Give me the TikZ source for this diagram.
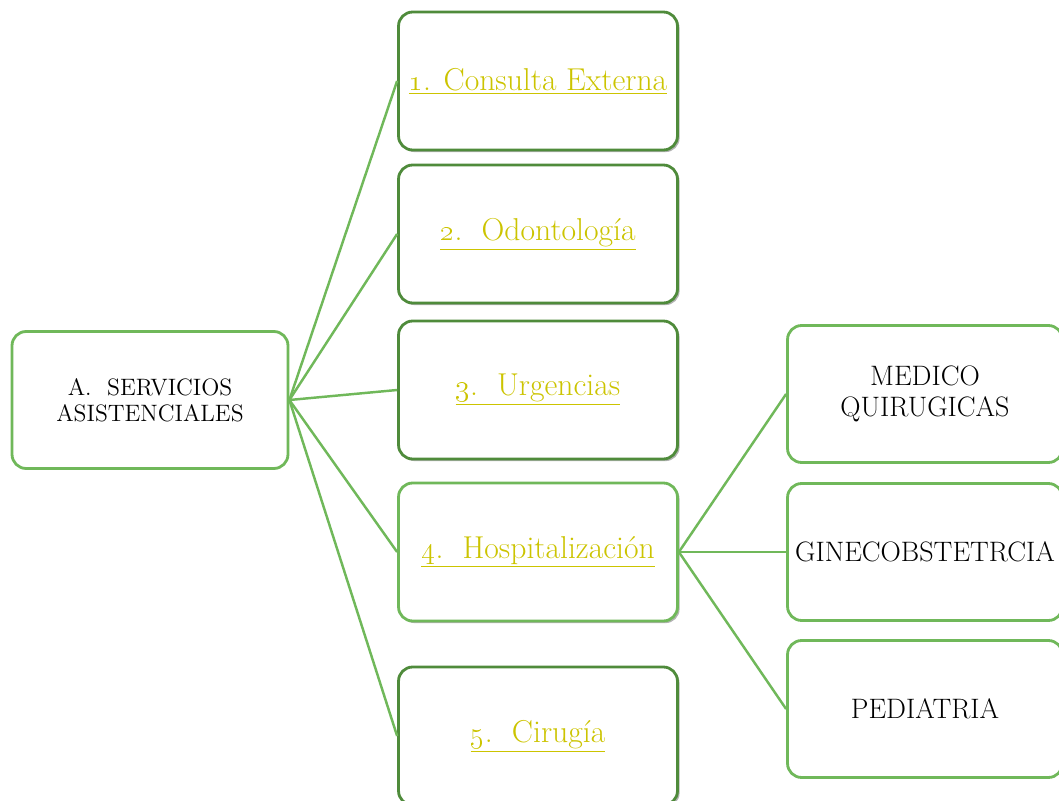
\documentclass[tikz,border=0pt]{standalone}
\usepackage{tikz}
\usetikzlibrary{shadows}
\definecolor{lineGreen}{HTML}{70B85A}
\definecolor{darkGreen}{HTML}{4F8B3B}
\definecolor{textYellow}{HTML}{CCC400}
\tikzset{
  rootbox/.style={draw=lineGreen, line width=1.6pt, rounded corners=8pt, fill=white,
    minimum width=5.52cm, minimum height=2.74cm, align=center, font=\fontsize{13.5}{15}\selectfont},
  itembox/.style={draw=darkGreen, line width=1.6pt, rounded corners=8pt, fill=white,
    minimum width=5.58cm, minimum height=2.76cm, inner sep=1pt, align=center,
    drop shadow={shadow xshift=1.2pt, shadow yshift=-1.2pt, fill=black!60},
    text=textYellow, font=\fontsize{18}{21}\selectfont},
  itemboxlight/.style={itembox, draw=lineGreen, drop shadow={opacity=0}},
  leafbox/.style={draw=lineGreen, line width=1.6pt, rounded corners=8pt, fill=white,
    minimum width=5.5cm, minimum height=2.74cm, inner sep=1pt, align=center, font=\fontsize{16}{18}\selectfont},
  link/.style={draw=lineGreen, line width=1.4pt}
}
\begin{document}
\begin{tikzpicture}[x=0.02cm, y=-0.02cm]
\useasboundingbox (0,0) rectangle (1059,801);
\clip (0,0) rectangle (1059,801);
\node[rootbox](servicios) at (150,400) {A.~~SERVICIOS\\ASISTENCIALES};
%
\node[itembox](consulta) at (538,81) {\underline{\oldstylenums{1}. Consulta Externa}};
\node[itembox](odonto) at (538,234) {\underline{\oldstylenums{2}.~~Odontología}};
\node[itembox](urgencias) at (538,390) {\underline{\oldstylenums{3}.~~Urgencias}};
\node[itemboxlight](hospital) at (538,552) {\underline{\oldstylenums{4}.~~Hospitalización}};
\node[itembox](cirugia) at (538,736) {\underline{\oldstylenums{5}.~~Cirugía}};
\draw[link](servicios.east) -- (consulta.west) {};
\draw[link](servicios.east) -- (odonto.west) {};
\draw[link](servicios.east) -- (urgencias.west) {};
\draw[link](servicios.east) -- (hospital.west) {};
\draw[link](servicios.east) -- (cirugia.west) {};
%
\node[leafbox](medico) at (925,394) {MEDICO\\QUIRUGICAS};
\node[leafbox](gineco) at (925,552) {GINECOBSTETRCIA};
\node[leafbox](pediatria) at (925,709) {PEDIATRIA};
\draw[link](hospital.east) -- (medico.west) {};
\draw[link](hospital.east) -- (gineco.west) {};
\draw[link](hospital.east) -- (pediatria.west) {};
\end{tikzpicture}
\end{document}
